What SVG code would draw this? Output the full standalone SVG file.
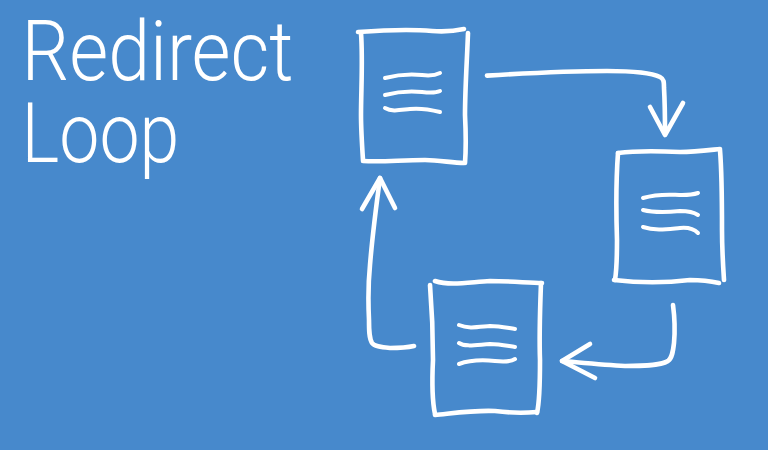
<svg xmlns="http://www.w3.org/2000/svg" width="768" height="450" viewBox="0 0 768 450">
<style>
.s{fill:none;stroke:#fff;stroke-width:4.6;stroke-linecap:round;stroke-linejoin:round}
.l{fill:none;stroke:#fff;stroke-width:4;stroke-linecap:round}
.t{fill:#fff;font-family:"Roboto","Liberation Sans",sans-serif;font-weight:300;font-size:83px}
</style>
<rect width="768" height="450" fill="#4789cc"/>
<g id="title">
<text class="t" transform="translate(21.500 80) scale(0.907 1)">Redirect</text>
<text class="t" transform="translate(21.500 162) scale(0.863 1)">Loop</text>
</g>
<g id="doc1">
<path class="s" d="M358 32C385 30 410 29 432 31C445 32 455 31 464 29"/>
<path class="s" d="M361 33C363 60 361 90 361 115C361 130 362 145 363 160"/>
<path class="s" d="M363 161C385 162 400 160 425 160C440 160 452 163 464 163"/>
<path class="s" d="M468 33C467 60 465 90 465 115C466 135 466 150 465 163"/>
<path class="l" d="M385 78C400 74 412 74 422 75C430 76 436 75 440 73"/>
<path class="l" d="M385 95C400 91 412 91 422 92C430 93 436 93 440 91"/>
<path class="l" d="M385 108C392 112 400 110 410 109C420 108 432 110 440 112"/>
</g>
<g id="doc2">
<path class="s" d="M618 153C640 150 660 151 680 152C695 152 710 150 720 149"/>
<path class="s" d="M618 153C616 180 616 210 617 240C617 255 617 268 615 280"/>
<path class="s" d="M720 150C722 175 722 205 722 230C722 250 723 265 724 280"/>
<path class="s" d="M614 280C640 283 665 283 690 280C700 280 710 281 719 283"/>
<path class="l" d="M643 198C660 193 672 195 682 195C690 195 695 194 698 193"/>
<path class="l" d="M643 210C655 213 670 212 680 211C690 211 695 213 698 215"/>
<path class="l" d="M643 227C655 231 668 229 680 228C690 227 695 230 698 233"/>
</g>
<g id="doc3">
<path class="s" d="M435 281C450 286 470 282 490 281C510 281 530 283 542 283"/>
<path class="s" d="M430 285C432 310 433 335 433 360C432 380 432 400 435 414"/>
<path class="s" d="M435 415C455 413 475 410 495 411C510 413 525 413 537 412"/>
<path class="s" d="M541 283C540 310 539 335 540 360C540 380 540 400 537 413"/>
<path class="l" d="M459 325C468 329 478 327 490 326C500 326 508 328 515 329"/>
<path class="l" d="M459 343C465 347 475 345 490 344C500 344 508 346 515 347"/>
<path class="l" d="M459 364C470 360 485 360 495 361C505 362 512 361 515 359"/>
</g>
<g id="connectors">
<path class="s" d="M487 75.600C530 73 570 71 607 71C630 71 650 72 660 77C664 79 664 82 664 88C665 105 665 120 665 133"/>
<path class="s" d="M650 107L665 135L683 103"/>
<path class="s" d="M673 305C675 320 675 332 674 343C673 352 672 358 668 361C660 366 640 366 625 366C605 365 585 363 562 361"/>
<path class="s" d="M590 344L562 361L595 378"/>
<path class="s" d="M414 346C405 348 398 348 390 348C380 347 374 346 372 343C369 338 369 330 369 320C368 300 368 285 370 265C372 240 375 215 380 178"/>
<path class="s" d="M362 209L380 178L395 208"/>
</g>
</svg>
